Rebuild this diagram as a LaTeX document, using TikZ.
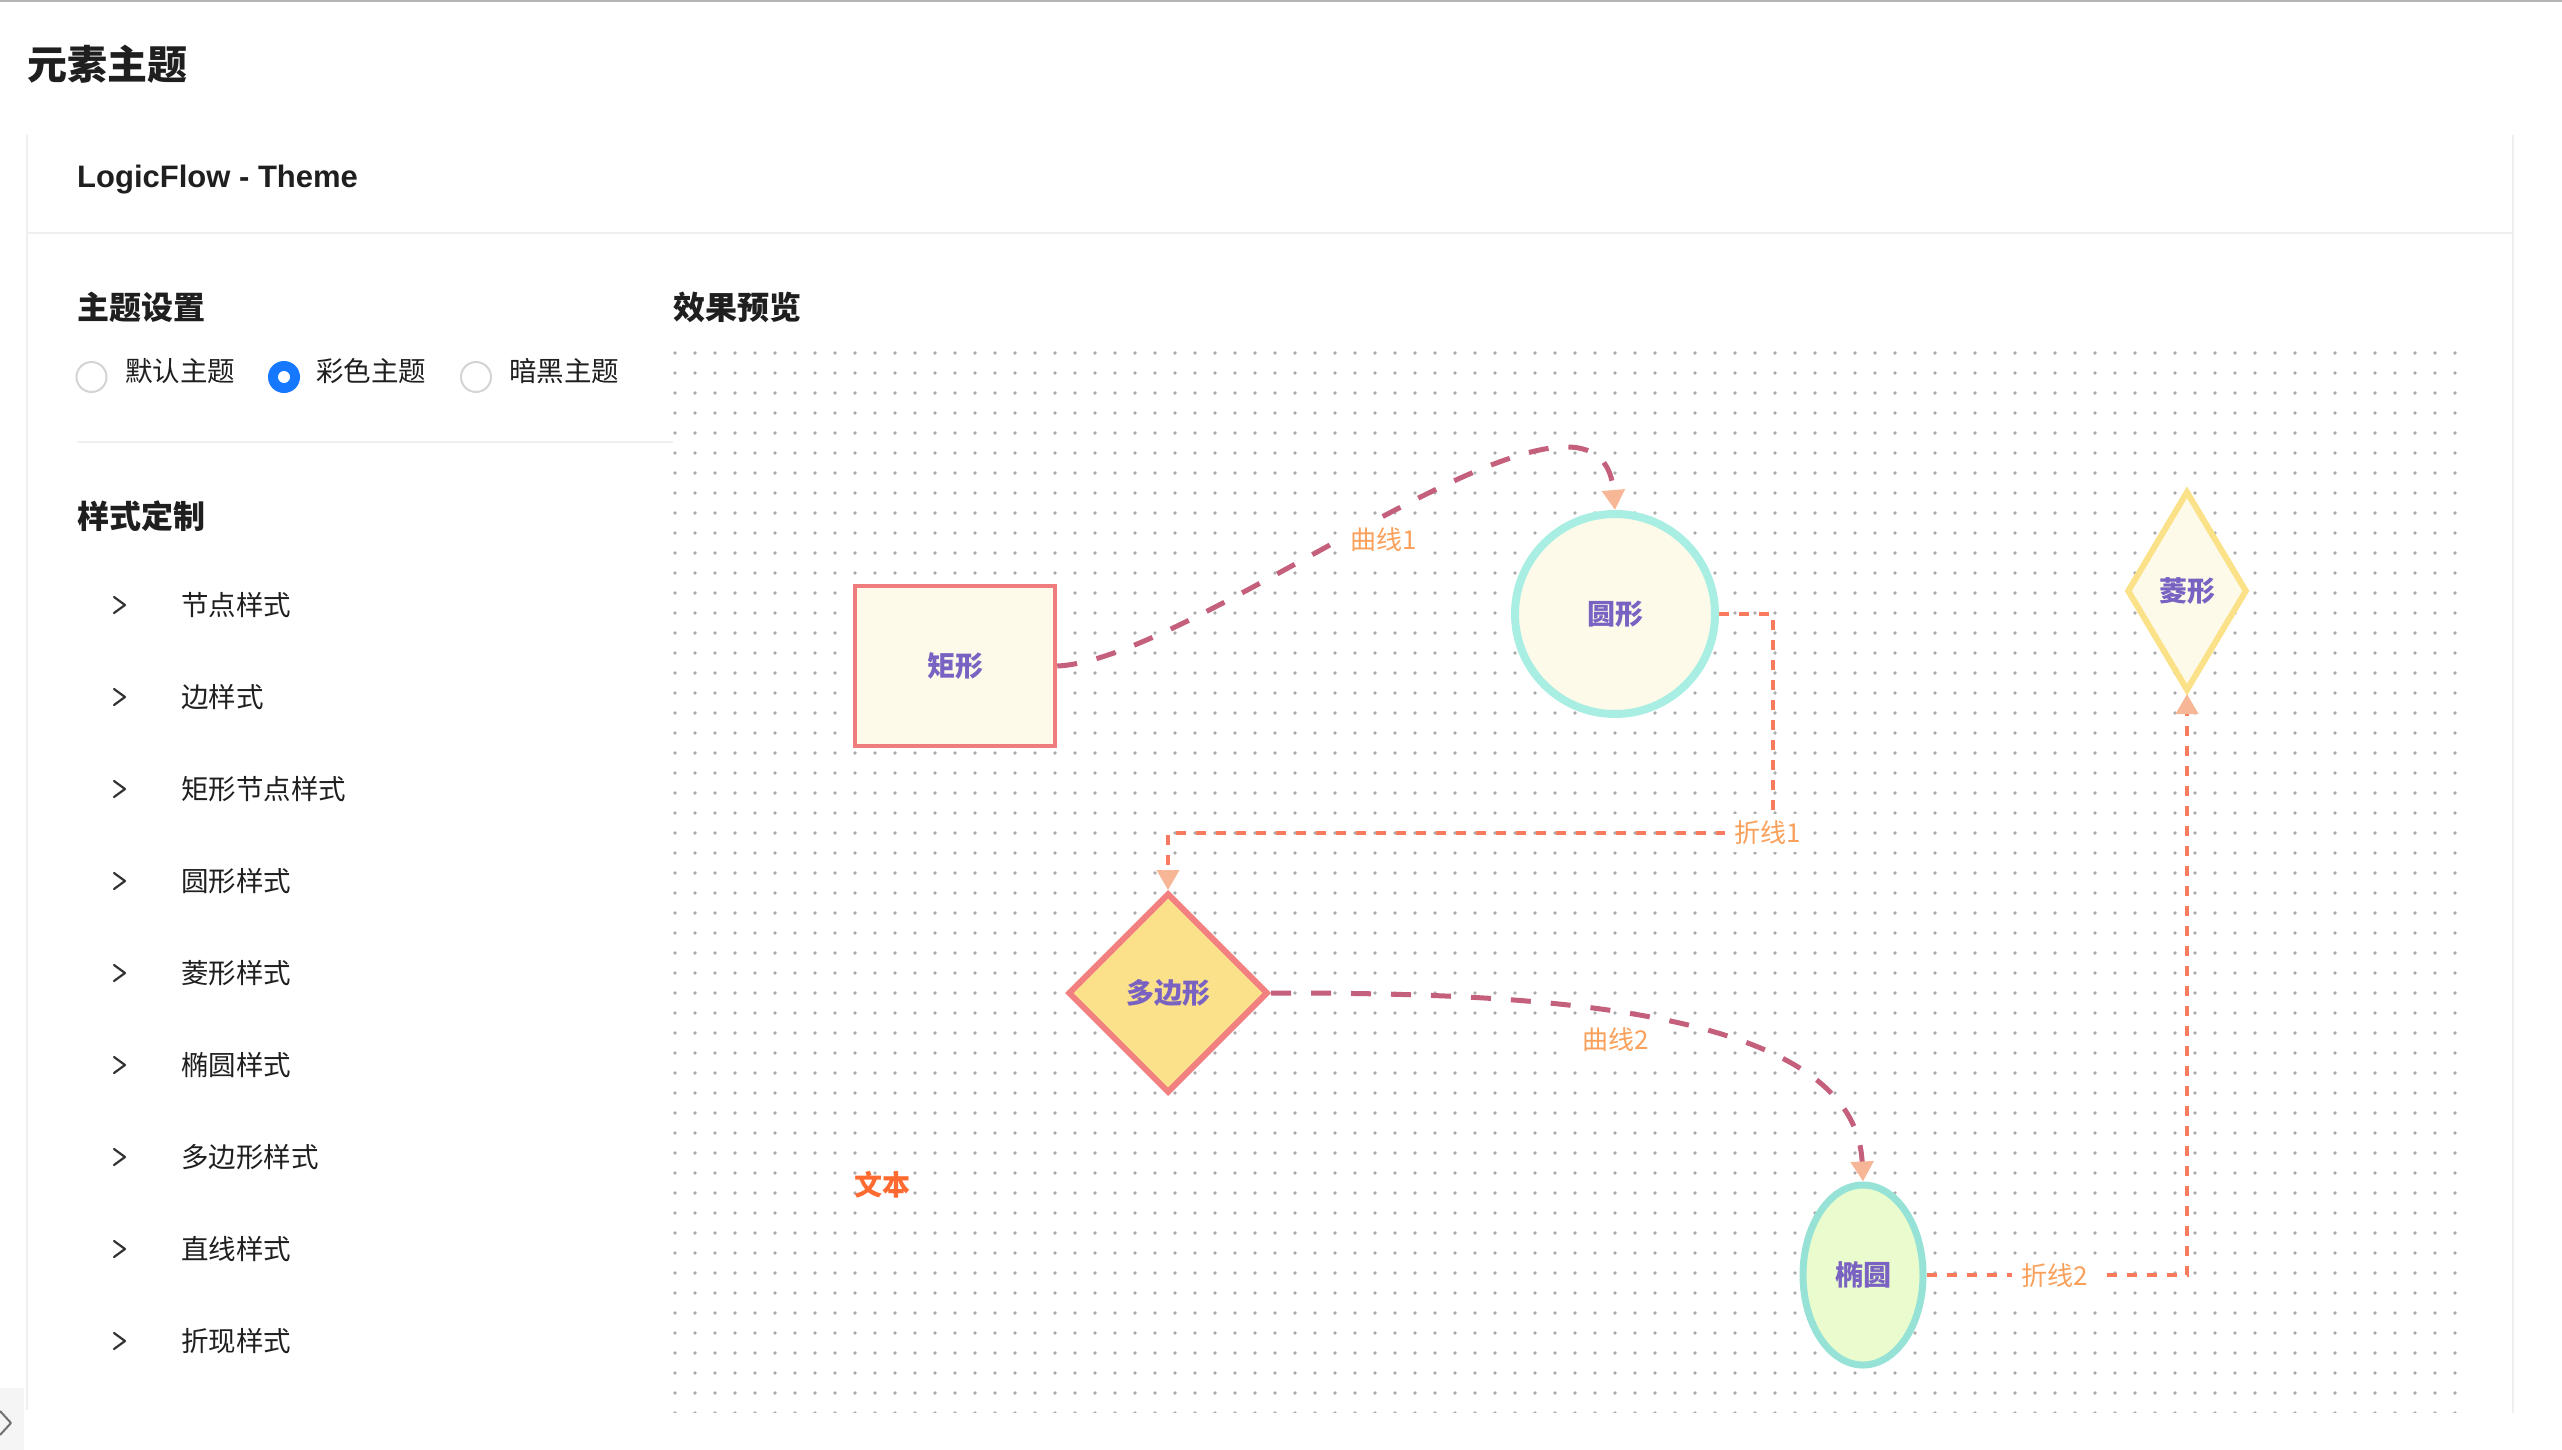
\documentclass[tikz,border=0pt]{standalone}
\usepackage{fontspec}
\setmainfont{Noto Sans CJK SC}
\newfontfamily\latinsans{Liberation Sans}
\usetikzlibrary{shapes.geometric,arrows.meta}
\newcommand{\fsz}[1]{\fontsize{#1pt}{#1pt}\selectfont}
\definecolor{pagetxt}{HTML}{1F1F1F}
\definecolor{borderc}{HTML}{EFEFEF}
\definecolor{toplinec}{HTML}{B5B5B5}
\definecolor{radioc}{HTML}{D4D4D4}
\definecolor{radioblue}{HTML}{1677FF}
\definecolor{dotc}{HTML}{ABABAB}
\definecolor{cream}{HTML}{FDFAEA}
\definecolor{rectline}{HTML}{F07D7D}
\definecolor{circline}{HTML}{A9EEE3}
\definecolor{dialine}{HTML}{FBE188}
\definecolor{polyfill}{HTML}{FBE28A}
\definecolor{polyline}{HTML}{F28080}
\definecolor{ellfill}{HTML}{EAFCCE}
\definecolor{ellline}{HTML}{96E2D6}
\definecolor{nodetxt}{HTML}{7A62C2}
\definecolor{curvec}{HTML}{C4607C}
\definecolor{polyc}{HTML}{FA7A5F}
\definecolor{arrowc}{HTML}{F7B796}
\definecolor{labelc}{HTML}{FAA05A}
\definecolor{textc}{HTML}{FF6A30}
\definecolor{chevc}{HTML}{333333}
\definecolor{sidebox}{HTML}{F5F5F5}
\begin{document}
\begin{tikzpicture}[x=1pt,y=-1pt,
  heading/.style={anchor=west,inner sep=0pt,text=pagetxt,font=\fsz{32}\bfseries},
  radiotext/.style={anchor=west,inner sep=0pt,text=pagetxt,font=\fsz{27.5}},
  listtext/.style={anchor=west,inner sep=0pt,text=pagetxt,font=\fsz{27.5}},
  radiooff/.style={circle,draw=radioc,line width=2pt,fill=white,minimum size=30pt,inner sep=0pt},
  radioon/.style={circle,fill=radioblue,minimum size=32pt,inner sep=0pt},
  chev/.style={draw=chevc,line width=2.2pt,line cap=round,line join=round},
  cardline/.style={draw=borderc,line width=2.5pt},
  nodetext/.style={text=nodetxt,font=\fsz{28}\bfseries,inner sep=0pt},
  rectnode/.style={rectangle,draw=rectline,fill=cream,line width=4.5pt,minimum width=200pt,minimum height=160pt,nodetext},
  circnode/.style={circle,draw=circline,fill=cream,line width=8pt,minimum size=200pt,nodetext},
  dianode/.style={diamond,draw=dialine,fill=cream,line width=6pt,minimum width=120pt,minimum height=200pt,nodetext},
  polynode/.style={diamond,draw=polyline,fill=polyfill,line width=6pt,minimum width=200pt,minimum height=200pt,nodetext},
  ellnode/.style={ellipse,draw=ellline,fill=ellfill,line width=7pt,minimum width=120pt,minimum height=180pt,nodetext},
  tip/.style={-{Triangle[length=20pt,width=22pt,color=arrowc,fill=arrowc]}},
  curveedge/.style={draw=curvec,line width=5pt,dash pattern=on 20pt off 20pt,tip},
  polyedge/.style={draw=polyc,line width=4pt,dash pattern=on 10pt off 10pt,tip},
  edgelabel/.style={fill=white,text=labelc,font=\fsz{26},inner xsep=10pt,inner ysep=7pt}
]
\useasboundingbox (0,0) rectangle (2562,1450);
\fill[white] (0,0) rectangle (2562,1450);
% page top line
\draw[draw=toplinec,line width=2.5pt] (0,1.2) -- (2562,1.2);
% page title
\node[heading,font=\fsz{40}\bfseries] (title) at (27,64) {元素主题};
% card
\draw[cardline] (27,135) -- (27,1410);
\draw[cardline] (2513,135) -- (2513,1413);
\draw[cardline] (27,233) -- (2513,233);
\node[anchor=base west,inner sep=0pt,text=pagetxt,font=\latinsans\fsz{31}\bfseries] (cardtitle) at (77,188) {LogicFlow - Theme};
% theme settings
\node[heading] (themeset) at (77,307) {主题设置};
\node[heading] (preview) at (673,307) {效果预览};
\node[radiooff] (r1) at (91.5,377) {};
\node[radiotext] (r1t) at (125,371) {默认主题};
\node[radioon] (r2) at (284,377) {};
\fill[white] (r2.center) circle (6pt);
\node[radiotext] (r2t) at (316,371) {彩色主题};
\node[radiooff] (r3) at (476,377) {};
\node[radiotext] (r3t) at (509,371) {暗黑主题};
\draw[draw=borderc,line width=2pt] (77,442) -- (673,442);
% style list
\node[heading] (custom) at (77,516) {样式定制};
\foreach \t [count=\k] in {节点样式,边样式,矩形节点样式,圆形样式,菱形样式,椭圆样式,多边形样式,直线样式,折现样式}{
  \pgfmathsetmacro\yy{605+92*(\k-1)}
  \node[listtext] (li\k) at (181,\yy) {\t};
  \draw[chev] (114,{\yy-8}) -- (125,\yy) -- (114,{\yy+8});
}
% side toggle
\fill[sidebox] (0,1388) rectangle (24,1450);
\draw[draw=chevc!70,line width=2pt,line join=round] (0,1411) -- (11,1423) -- (0,1435);
% dot grid
\begin{scope}
\clip (660,340) rectangle (2470,1412);
\foreach \i in {0,...,89}{
  \foreach \j in {0,...,53}{
    \fill[dotc] ({675+20*\i},{353+20*\j}) circle (1.8pt);
  }
}
\end{scope}
% nodes
\node[rectnode] (rect) at (955,666) {矩形};
\node[circnode] (circ) at (1615,614) {圆形};
\node[dianode] (dia) at (2187,591) {菱形};
\node[polynode] (poly) at (1168,993) {多边形};
\node[ellnode] (ell) at (1863,1275) {椭圆};
\node[text=textc,font=\fsz{28}\bfseries,inner sep=0pt] (txt) at (882,1185) {文本};
% edges
\draw[curveedge] (rect.east) .. controls (1200,660) and (1600,330) .. (circ.north);
\draw[curveedge] (poly.east) .. controls (1500,993) and (1855,1000) .. (ell.north);
\coordinate (b1) at (1773,833);
\draw[polyedge] (circ.east) -| (b1) -| (poly.north);
\draw[polyedge] (ell.east) -| (dia.south);
% edge labels
\node[edgelabel] (lab1) at (1384,540) {曲线1};
\node[edgelabel] (lab2) at (1616,1040) {曲线2};
\node[edgelabel] (lab3) at (1768,833) {折线1};
\node[edgelabel] (lab4) at (2055,1276) {折线2};
\end{tikzpicture}
\end{document}
